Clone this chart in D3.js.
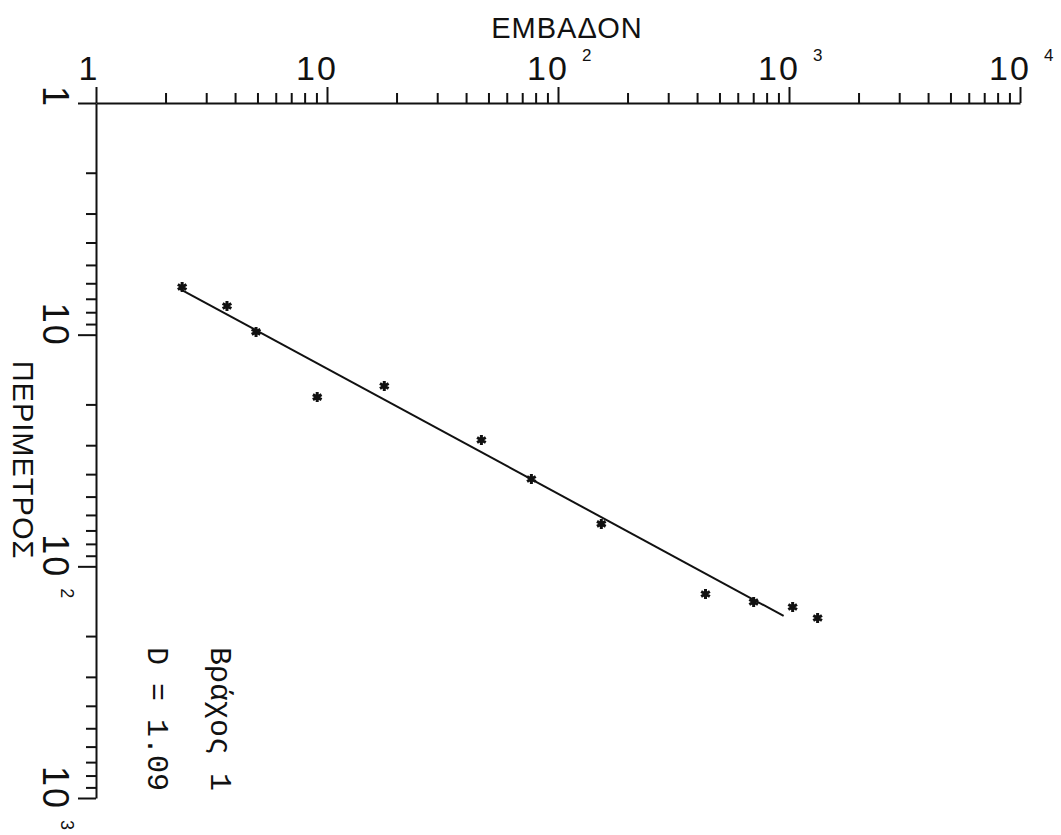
<!DOCTYPE html>
<html lang="el">
<head>
<meta charset="UTF-8">
<title>Βράχος 1</title>
<style>
  body { margin: 0; background: #fff; }
  svg text { font-family: "Liberation Sans", Arial, sans-serif; fill: #111; }
  .mono { font-family: "Liberation Mono", "DejaVu Sans Mono", monospace; }
  .axis path, .axis line { stroke: #111; }
</style>
</head>
<body>
<div id="graph"></div>
<script src="https://cdn.jsdelivr.net/npm/d3@7"></script>
<script>
// points: area (ΕΜΒΑΔΟΝ) and perimeter (ΠΕΡΙΜΕΤΡΟΣ)
var area      = [2.36, 3.69, 4.93, 9.07, 17.7, 46.6, 76.7, 154, 435, 703, 1037, 1330];
var perimeter = [6.23, 7.52, 9.73, 18.6, 16.65, 28.5, 42.0, 65.6, 131.6, 142.5, 149.7, 167];

// ends of the fitted line
var fitArea      = [2.27, 948];
var fitPerimeter = [6.29, 163.7];

// tick labels
var xMajor = [1, 10, 100, 1000, 10000];
var xBase  = ["1", "10", "10", "10", "10"];
var xExp   = ["", "", "2", "3", "4"];
var yMajor = [1, 10, 100, 1000];
var yBase  = ["1", "10", "10", "10"];
var yExp   = ["", "", "2", "3"];

var xTitle = "ΕΜΒΑΔΟΝ";
var yTitle = "ΠΕΡΙΜΕΤΡΟΣ";
var notes  = ["Βράχος 1", "D = 1.09"];

var width = 1061, height = 835;

var svg = d3.select("#graph").append("svg")
    .attr("width", width)
    .attr("height", height);

// scales (x along the top, y grows downward)
var x = d3.scaleLog().domain([1, 10000]).range([96, 1020]);
var y = d3.scaleLog().domain([1, 1000]).range([103, 798]);

function isMajor(v) { return Math.abs(Math.log10(v) - Math.round(Math.log10(v))) < 1e-9; }
var xMinor = x.ticks().filter(function(v) { return !isMajor(v); });
var yMinor = y.ticks().filter(function(v) { return !isMajor(v); });

// x axis: minor + major ticks pointing up
svg.append("g").attr("class", "axis")
    .attr("transform", "translate(0," + y(1) + ")")
    .call(d3.axisTop(x).tickValues(xMinor).tickSize(10).tickSizeOuter(0).tickFormat(""))
    .call(function(g) { g.selectAll("path, line").attr("stroke-width", 2); });
svg.append("g").attr("class", "axis")
    .attr("transform", "translate(0," + y(1) + ")")
    .call(d3.axisTop(x).tickValues(xMajor).tickSize(16).tickSizeOuter(0).tickFormat(""))
    .call(function(g) { g.select("path").remove(); g.selectAll("line").attr("stroke-width", 2); });

// y axis: ticks pointing left
svg.append("g").attr("class", "axis")
    .attr("transform", "translate(" + x(1) + ",0)")
    .call(d3.axisLeft(y).tickValues(yMinor).tickSize(10).tickSizeOuter(0).tickFormat(""))
    .call(function(g) { g.selectAll("path, line").attr("stroke-width", 2); });
svg.append("g").attr("class", "axis")
    .attr("transform", "translate(" + x(1) + ",0)")
    .call(d3.axisLeft(y).tickValues(yMajor).tickSize(18).tickSizeOuter(0).tickFormat(""))
    .call(function(g) { g.select("path").remove(); g.selectAll("line").attr("stroke-width", 2); });

// x tick labels
xMajor.forEach(function(v, i) {
    svg.append("text")
        .attr("x", x(v) - (i === 0 ? 7 : 10))
        .attr("y", 80)
        .attr("text-anchor", "middle")
        .attr("font-size", 34)
        .attr("letter-spacing", 2)
        .text(xBase[i]);
    if (xExp[i]) {
        svg.append("text")
            .attr("x", x(v) + 24)
            .attr("y", 61)
            .attr("font-size", 17)
            .text(xExp[i]);
    }
});

// y tick labels, turned a quarter
yMajor.forEach(function(v, i) {
    svg.append("text")
        .attr("transform", "translate(43," + (y(v) - (i === 0 ? 6 : 10)) + ") rotate(90)")
        .attr("text-anchor", "middle")
        .attr("font-size", 36)
        .attr("letter-spacing", 2)
        .text(yBase[i]);
    if (yExp[i]) {
        svg.append("text")
            .attr("transform", "translate(61," + (y(v) + 22) + ") rotate(90)")
            .attr("font-size", 18)
            .text(yExp[i]);
    }
});

// axis titles
svg.append("text")
    .attr("x", 567).attr("y", 38)
    .attr("text-anchor", "middle")
    .attr("font-size", 29)
    .attr("letter-spacing", 1)
    .text(xTitle);
svg.append("text")
    .attr("transform", "translate(13,460) rotate(90)")
    .attr("text-anchor", "middle")
    .attr("font-size", 29)
    .attr("letter-spacing", 1)
    .text(yTitle);

// notes
svg.append("text").attr("class", "mono")
    .attr("transform", "translate(211,647) rotate(90)")
    .attr("font-size", 30)
    .text(notes[0]);
svg.append("text").attr("class", "mono")
    .attr("transform", "translate(148,647) rotate(90)")
    .attr("font-size", 30)
    .text(notes[1]);

// fitted line
var line = d3.line()
    .x(function(d) { return x(d[0]); })
    .y(function(d) { return y(d[1]); });
svg.append("path")
    .datum(d3.zip(fitArea, fitPerimeter))
    .attr("d", line)
    .attr("fill", "none")
    .attr("stroke", "#111")
    .attr("stroke-width", 2);

// points
svg.selectAll(".pt")
    .data(d3.zip(area, perimeter))
    .enter().append("path")
    .attr("class", "pt")
    .attr("transform", function(d) { return "translate(" + x(d[0]) + "," + y(d[1]) + ")"; })
    .attr("d", d3.symbol(d3.symbolAsterisk, 70))
    .attr("fill", "none")
    .attr("stroke", "#111")
    .attr("stroke-width", 3);
</script>
</body>
</html>
